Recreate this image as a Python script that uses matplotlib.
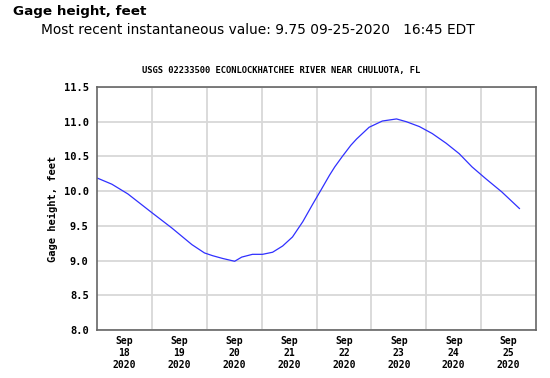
import matplotlib
matplotlib.use("Agg")
import matplotlib.pyplot as plt
import datetime as dt

# Data: hours since 2020-09-18 00:00 EDT and gage height (feet)
hours = [0, 6.5, 13.5, 24, 32.7, 41.5, 47, 50.6, 55, 60.2, 63.3, 68, 72.4, 76.8,
         81.2, 85.5, 90, 94.3, 98.2, 101.7, 104, 107.3, 111, 113.5, 119, 124.8, 131,
         135.3, 141, 146.6, 152.7, 158.4, 164, 170, 177, 184.75]
heights = [10.19, 10.10, 9.96, 9.69, 9.47, 9.23, 9.11, 9.07, 9.03, 8.99, 9.05, 9.09,
           9.09, 9.12, 9.21, 9.34, 9.56, 9.81, 10.03, 10.23, 10.35, 10.50, 10.66, 10.75,
           10.92, 11.01, 11.04, 11.00, 10.93, 10.83, 10.69, 10.54, 10.35, 10.18,
           9.99, 9.75]
day_numbers = [18, 19, 20, 21, 22, 23, 24, 25]
yticks = [8.0, 8.5, 9.0, 9.5, 10.0, 10.5, 11.0, 11.5]

start = dt.datetime(2020, 9, 18)
times = [start + dt.timedelta(hours=h) for h in hours]

fig = plt.figure(figsize=(5.5, 3.78), dpi=100)
ax = fig.add_axes([97/550, 48/378, 439/550, 243/378])

ax.plot(times, heights, color="#3030ff", lw=0.9)

ax.set_xlim(start, start + dt.timedelta(days=8))
ax.set_ylim(8.0, 11.5)

mono = "DejaVu Sans Mono"
# gridlines at midnight, labels at noon
ax.set_xticks([start + dt.timedelta(days=d) for d in range(1, 8)], minor=False)
ax.set_xticklabels([])
ax.set_xticks([start + dt.timedelta(days=i, hours=12) for i in range(len(day_numbers))], minor=True)
ax.set_xticklabels([f"Sep\n{d}\n2020" for d in day_numbers], minor=True,
                   fontfamily=mono, fontweight="bold", fontsize=7, linespacing=1.25)
ax.tick_params(axis="x", which="both", length=0, pad=4)
ax.set_yticks(yticks)
ax.set_yticklabels([f"{v:.1f}" for v in yticks], fontfamily=mono, fontweight="bold", fontsize=7.5)
ax.tick_params(axis="y", length=0, pad=6)

ax.grid(True, which="major", color="#d8d8d8", lw=1.3)
ax.set_axisbelow(True)
for s in ax.spines.values():
    s.set_color("#666666")
    s.set_linewidth(1.2)

ax.set_ylabel("Gage height, feet", fontfamily=mono, fontweight="bold", fontsize=7.5, labelpad=4)

fig.text(13/550, 1 - 12/378, "Gage height, feet", fontsize=9.7, fontweight="bold",
         va="center", ha="left", family="DejaVu Sans")
fig.text(41/550, 1 - 30/378, "Most recent instantaneous value: 9.75 09-25-2020   16:45 EDT",
         fontsize=9.9, va="center", ha="left", family="DejaVu Sans")
fig.text(281/550, 1 - 70/378, "USGS 02233500 ECONLOCKHATCHEE RIVER NEAR CHULUOTA, FL",
         fontsize=6.3, fontweight="bold", va="center", ha="center", family=mono)

fig.savefig("out.png", dpi=100)
